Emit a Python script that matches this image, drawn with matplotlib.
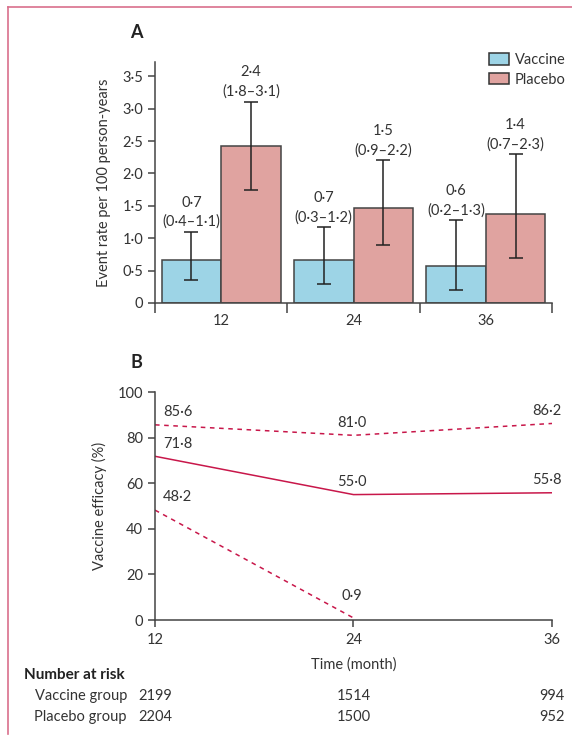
import numpy as np
import matplotlib.pyplot as plt
from matplotlib.patches import Patch
from matplotlib.lines import Line2D

plt.rcParams['font.family'] = ['Lato', 'DejaVu Sans']
plt.rcParams['font.size'] = 10.5
plt.rcParams['text.color'] = '#333333'
plt.rcParams['axes.labelcolor'] = '#333333'
plt.rcParams['xtick.color'] = '#333333'
plt.rcParams['ytick.color'] = '#333333'

# Panel A data
groups = ['12', '24', '36']
vaccine_rate = [0.67, 0.67, 0.57]
vaccine_low = [0.35, 0.30, 0.20]
vaccine_high = [1.10, 1.17, 1.28]
vaccine_text = ['0·7\n(0·4–1·1)', '0·7\n(0·3–1·2)', '0·6\n(0·2–1·3)']
placebo_rate = [2.42, 1.47, 1.37]
placebo_low = [1.75, 0.89, 0.70]
placebo_high = [3.11, 2.20, 2.30]
placebo_text = ['2·4\n(1·8–3·1)', '1·5\n(0·9–2·2)', '1·4\n(0·7–2·3)']

# Panel B data
months = [12, 24, 36]
efficacy = [71.8, 55.0, 55.8]
efficacy_upper = [85.6, 81.0, 86.2]
lower_months = [12, 24]
efficacy_lower = [48.2, 0.9]

# Number at risk
vaccine_risk = ['2199', '1514', '994']
placebo_risk = ['2204', '1500', '952']

vacc_col = '#9dd4e6'
plac_col = '#e0a3a0'
edge_col = '#444444'
line_col = '#c8174a'

fig = plt.figure(figsize=(5.72, 7.36), dpi=100)

# frame lines (top and left)
frame = '#d9708c'
fig.add_artist(Line2D([8/572, 1], [1 - 7/736] * 2, color=frame, lw=1.2))
fig.add_artist(Line2D([8/572] * 2, [1 - 7/736, 1 - 734/736], color=frame, lw=1.2))

# ---------- Panel A ----------
ax = fig.add_axes([155/572, 1 - 303/736, 397/572, 241/736])
x = np.arange(len(groups))
w = 0.45
vx = x - w / 2
px = x + w / 2
ax.bar(vx, vaccine_rate, w, color=vacc_col, edgecolor=edge_col, lw=1.1)
ax.bar(px, placebo_rate, w, color=plac_col, edgecolor=edge_col, lw=1.1)
v_err = [np.array(vaccine_rate) - np.array(vaccine_low), np.array(vaccine_high) - np.array(vaccine_rate)]
p_err = [np.array(placebo_rate) - np.array(placebo_low), np.array(placebo_high) - np.array(placebo_rate)]
ax.errorbar(vx, vaccine_rate, yerr=v_err, fmt='none', ecolor='#222222', elinewidth=1.1, capsize=5, capthick=1.1)
ax.errorbar(px, placebo_rate, yerr=p_err, fmt='none', ecolor='#222222', elinewidth=1.1, capsize=5, capthick=1.1)
for xi, top, t in zip(vx, vaccine_high, vaccine_text):
    ax.text(xi, top + 0.04, t, ha='center', va='bottom', linespacing=1.45)
for xi, top, t in zip(px, placebo_high, placebo_text):
    ax.text(xi, top + 0.04, t, ha='center', va='bottom', linespacing=1.45)

ax.set_xlim(-0.5, 2.5)
ax.set_ylim(0, 3.72)
ax.set_yticks([0, 0.5, 1.0, 1.5, 2.0, 2.5, 3.0, 3.5])
ax.set_yticklabels(['0', '0·5', '1·0', '1·5', '2·0', '2·5', '3·0', '3·5'])
ax.set_xticks(x)
ax.set_xticklabels(groups)
ax.set_xticks([-0.5, 0.5, 1.5, 2.5], minor=True)
ax.tick_params(axis='x', which='major', length=0, pad=8)
ax.tick_params(axis='x', which='minor', length=7, width=1.1, color=edge_col)
ax.tick_params(axis='y', length=5, width=1.1, color=edge_col)
for s in ['top', 'right']:
    ax.spines[s].set_visible(False)
for s in ['left', 'bottom']:
    ax.spines[s].set_color(edge_col)
    ax.spines[s].set_linewidth(1.1)
ax.set_ylabel('Event rate per 100 person-years', labelpad=8)
handles = [Patch(facecolor=vacc_col, edgecolor='#333333', lw=1.1, label='Vaccine'),
           Patch(facecolor=plac_col, edgecolor='#333333', lw=1.1, label='Placebo')]
fig.legend(handles=handles, loc='upper left', bbox_to_anchor=(489/572, 1 - 53/736),
           bbox_transform=fig.transFigure, frameon=False, borderpad=0, borderaxespad=0,
           handlelength=1.35, handleheight=0.8, handletextpad=0.4, labelspacing=0.4, fontsize=10.5)
fig.text(136/572, 1 - 32/736, 'A', fontsize=13, fontweight='bold', ha='center', va='center', color='#222222')

# ---------- Panel B ----------
bx = fig.add_axes([155/572, 1 - 620/736, 397/572, 228/736])
bx.plot(months, efficacy, color=line_col, lw=1.1)
bx.plot(months, efficacy_upper, color=line_col, lw=1.1, ls=(0, (3, 3)))
bx.plot(lower_months, efficacy_lower, color=line_col, lw=1.1, ls=(0, (3, 3)))

def lab(v):
    return f'{v:.1f}'.replace('.', '·')

aligns = ['left', 'center', 'center']
offs = [0.5, -0.1, -0.3]
for series, ms, lift in [(efficacy, months, 2.5), (efficacy_upper, months, 2.5), (efficacy_lower, lower_months, 6.5)]:
    for m, v in zip(ms, series):
        i = months.index(m)
        bx.text(m + offs[i], v + (lift if i else 2.5), lab(v), ha=aligns[i], va='bottom')

bx.set_xlim(12, 36)
bx.set_ylim(0, 100)
bx.set_xticks(months)
bx.set_yticks([0, 20, 40, 60, 80, 100])
bx.tick_params(axis='both', length=5, width=1.1, color=edge_col)
bx.tick_params(axis='x', pad=4)
for s in ['top', 'right']:
    bx.spines[s].set_visible(False)
for s in ['left', 'bottom']:
    bx.spines[s].set_color(edge_col)
    bx.spines[s].set_linewidth(1.1)
bx.set_ylabel('Vaccine efficacy (%)', labelpad=8)
bx.set_xlabel('Time (month)', labelpad=8)
fig.text(136/572, 1 - 362/736, 'B', fontsize=13, fontweight='bold', ha='center', va='center', color='#222222')

# ---------- Number at risk ----------
fig.text(24/572, 1 - 675/736, 'Number at risk', fontsize=11, fontweight='bold', va='center', color='#222222')
rows = [('Vaccine group', vaccine_risk, 696), ('Placebo group', placebo_risk, 717)]
for name, vals, yp in rows:
    fig.text(127/572, 1 - yp/736, name, ha='right', va='center')
    for m, v in zip(months, vals):
        xf = bx.transData.transform((m, 0))[0] / fig.bbox.width
        fig.text(xf, 1 - yp/736, v, ha='center', va='center')

fig.savefig('out.png', dpi=100)
